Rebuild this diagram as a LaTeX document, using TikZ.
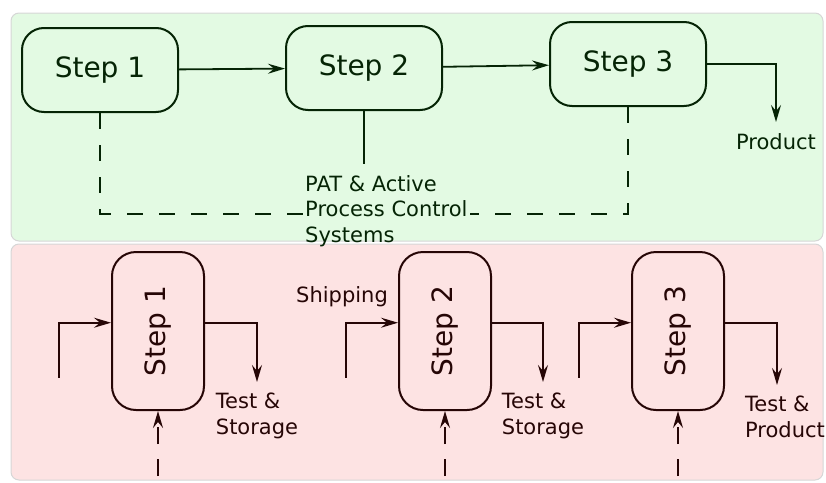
\documentclass[tikz,border=0pt]{standalone}
\usepackage{fontspec}
\setmainfont{DejaVu Sans}
\usetikzlibrary{arrows.meta,positioning}

\definecolor{topbg}{RGB}{227,250,227}
\definecolor{botbg}{RGB}{253,227,227}
\definecolor{topline}{RGB}{5,36,5}
\definecolor{botline}{RGB}{38,6,6}
\definecolor{frame}{RGB}{214,214,214}

\begin{document}
\begin{tikzpicture}[>={Stealth[length=17pt, width=10pt, inset=6pt]}, x=1pt, y=-1pt, auto, node distance=264pt,
    panel/.style={draw=frame, line width=1pt, rounded corners=8pt},
    stage/.style={draw=topline, text=topline, line width=2pt, rounded corners=22pt,
        minimum width=156pt, minimum height=84pt, font=\fontsize{28}{32}\selectfont},
    unit/.style={draw=botline, text=botline, line width=2pt, rounded corners=24pt,
        minimum width=92pt, minimum height=158pt, font=\fontsize{28}{32}\selectfont},
    note/.style={font=\fontsize{21}{25.5}\selectfont, align=left, inner xsep=2pt, inner ysep=11pt},
    feed/.style={dash pattern=on 16pt off 16pt},
    ret/.style={dash pattern=on 17pt off 15pt}]
    \useasboundingbox (0,0) rectangle (826,482);

    % Panels
    \draw [panel, fill=topbg] (11,13) rectangle (823,241);
    \draw [panel, fill=botbg] (11,244) rectangle (823,480);

    % Nodes {t1, t2, t3} in the upper panel
    \node [stage] 			(t1) at (100,70) 				{Step 1};
    \node [stage] 			(t2) [right of=t1, yshift=2pt] 	{Step 2};
    \node [stage] 			(t3) [right of=t2, yshift=4pt] 	{Step 3};
    \node [note, text=topline, anchor=north]		(prod) at (776,122)	{Product};
    \node [note, text=topline, anchor=north west]	(pat)  at (303,164)	{PAT \& Active\\Process Control\\Systems};

    % Nodes {b1, b2, b3} in the lower panel
    \node [unit] 			(b1) at (158,331) 							{\rotatebox{90}{Step 1}};
    \node [unit] 			(b2) [right of=b1, node distance=287pt] 	{\rotatebox{90}{Step 2}};
    \node [unit] 			(b3) [right of=b2, node distance=233pt] 	{\rotatebox{90}{Step 3}};
    \node [note, text=botline, anchor=north] 	(s1) at (257,382) 	{Test \&\\Storage};
    \node [note, text=botline, anchor=north] 	(s2) at (543,382) 	{Test \&\\Storage};
    \node [note, text=botline, anchor=north] 	(s3) at (785,385) 	{Test \&\\Product};
    \node [note, text=botline] 					(ship) at (342,297) {Shipping};

    % Free ends
    \coordinate [below left=55pt and 52pt of b1.170] 	(i1);
    \coordinate [below left=55pt and 52pt of b2.170] 	(i2);
    \coordinate [below left=55pt and 52pt of b3.170] 	(i3);
    \coordinate [below=65pt of b1.south] 	(f1);
    \coordinate [below=65pt of b2.south] 	(f2);
    \coordinate [below=65pt of b3.south] 	(f3);

    % Paths (upper)
    \begin{scope}[draw=topline, line width=1.8pt]
    \path [->] 	(t1) edge 	(t2);
    \path [->] 	(t2) edge 	(t3);
    \draw [->] 	(t3.east) -| (prod.north);
    \draw 		(t2.south) -- (t2.south |- pat.north);
    \draw [feed] 	(t1.south) |- ([yshift=-3pt]pat.west);
    \draw [feed] 	(t3.south) |- ([yshift=-3pt]pat.east);
    \end{scope}

    % Paths (lower)
    \begin{scope}[draw=botline, line width=1.8pt]
    \foreach \n in {1,2,3} {
        \draw [->] 		(i\n) |- (b\n.170);
        \draw [->, ret] (f\n) -- (b\n.south);
    }
    \draw [->] 	(b1.10) -| (s1.north);
    \draw [->] 	(b2.10) -| (s2.north);
    \draw [->] 	(b3.10) -| ([xshift=-8pt]s3.north);
    \end{scope}

\end{tikzpicture}
\end{document}
